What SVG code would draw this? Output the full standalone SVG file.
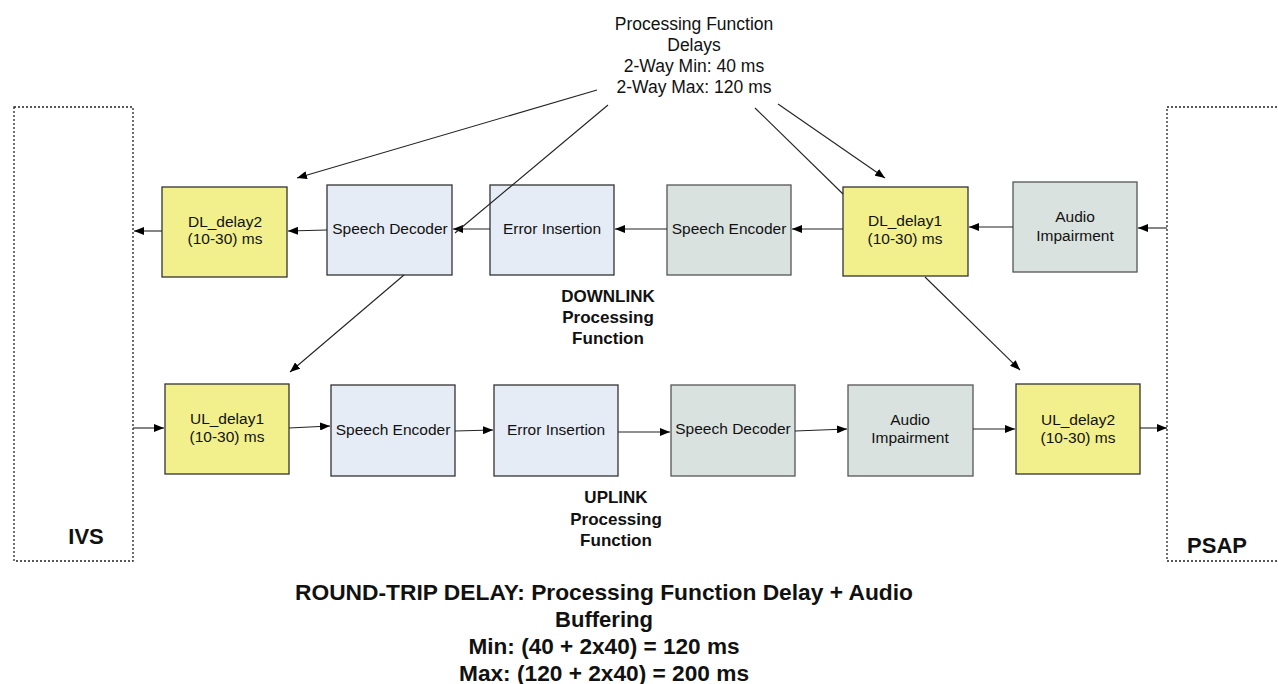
<svg xmlns="http://www.w3.org/2000/svg" width="1278" height="684" viewBox="0 0 1278 684">
<style>
text{font-family:"Liberation Sans",Arial,sans-serif;fill:#111}
.t{font-size:15.5px;text-anchor:middle}
.h{font-size:17.5px;text-anchor:middle}
.b{font-weight:bold;text-anchor:middle}
.y{fill:#F2F08C;stroke:#333;stroke-width:1.3}
.bl{fill:#E6ECF6;stroke:#333;stroke-width:1.3}
.g{fill:#DAE2E0;stroke:#555;stroke-width:1.3}
.end{fill:none;stroke:#222;stroke-width:1.3;stroke-dasharray:2 2}
.c line{stroke:#222;stroke-width:1.1}
.a{marker-end:url(#ah)}
</style>
<defs>
<marker id="ah" viewBox="0 0 10 8" refX="10" refY="4" markerWidth="10" markerHeight="8" markerUnits="userSpaceOnUse" orient="auto">
<path d="M0,0 L10,4 L0,8 Z" fill="#000"/>
</marker>
</defs>
<rect width="1278" height="684" fill="#fff"/>

<g id="ivs"><rect class="end" x="14" y="107" width="119" height="454"/><text class="b" x="86" y="544" font-size="22">IVS</text></g>
<g id="psap"><rect class="end" x="1167" y="107" width="130" height="454"/><text class="b" x="1217" y="553" font-size="22">PSAP</text></g>

<g id="title"><text class="h" x="694" y="30">Processing Function</text><text class="h" x="694" y="51">Delays</text><text class="h" x="694" y="72">2-Way Min: 40 ms</text><text class="h" x="694" y="93">2-Way Max: 120 ms</text></g>

<g id="dl_delay2"><rect class="y" x="162" y="187" width="125" height="90"/><text class="t" x="225" y="227">DL_delay2</text><text class="t" x="225" y="244">(10-30) ms</text></g>
<g id="dl_speech_decoder"><rect class="bl" x="327" y="185" width="125" height="90"/><text class="t" x="390" y="234">Speech Decoder</text></g>
<g id="dl_error_insertion"><rect class="bl" x="490" y="185" width="124" height="90"/><text class="t" x="552" y="234">Error Insertion</text></g>
<g id="dl_speech_encoder"><rect class="g" x="667" y="185" width="124" height="90"/><text class="t" x="729" y="234">Speech Encoder</text></g>
<g id="dl_delay1"><rect class="y" x="843" y="187" width="125" height="89"/><text class="t" x="905" y="226">DL_delay1</text><text class="t" x="905" y="244">(10-30) ms</text></g>
<g id="dl_audio_impairment"><rect class="g" x="1013" y="182" width="124" height="90"/><text class="t" x="1075" y="222">Audio</text><text class="t" x="1075" y="241">Impairment</text></g>

<g id="ul_delay1"><rect class="y" x="165" y="384" width="124" height="90"/><text class="t" x="227" y="424">UL_delay1</text><text class="t" x="227" y="442">(10-30) ms</text></g>
<g id="ul_speech_encoder"><rect class="bl" x="331" y="385" width="124" height="91"/><text class="t" x="393" y="435">Speech Encoder</text></g>
<g id="ul_error_insertion"><rect class="bl" x="494" y="385" width="124" height="91"/><text class="t" x="556" y="435">Error Insertion</text></g>
<g id="ul_speech_decoder"><rect class="g" x="671" y="385" width="124" height="91"/><text class="t" x="733" y="434">Speech Decoder</text></g>
<g id="ul_audio_impairment"><rect class="g" x="848" y="385" width="125" height="91"/><text class="t" x="910" y="425">Audio</text><text class="t" x="910" y="443">Impairment</text></g>
<g id="ul_delay2"><rect class="y" x="1016" y="384" width="124" height="90"/><text class="t" x="1078" y="425">UL_delay2</text><text class="t" x="1078" y="443">(10-30) ms</text></g>

<g id="dl_label"><text class="b" x="608" y="302" font-size="17">DOWNLINK</text><text class="b" x="608" y="323" font-size="17">Processing</text><text class="b" x="608" y="344" font-size="17">Function</text></g>
<g id="ul_label"><text class="b" x="616" y="503" font-size="17">UPLINK</text><text class="b" x="616" y="525" font-size="17">Processing</text><text class="b" x="616" y="546" font-size="17">Function</text></g>

<g id="summary"><text class="b" x="604" y="600" font-size="22" textLength="618" lengthAdjust="spacingAndGlyphs">ROUND-TRIP DELAY: Processing Function Delay + Audio</text><text class="b" x="604" y="627" font-size="22" textLength="98" lengthAdjust="spacingAndGlyphs">Buffering</text><text class="b" x="604" y="654" font-size="22" textLength="271" lengthAdjust="spacingAndGlyphs">Min: (40 + 2x40) = 120 ms</text><text class="b" x="604" y="681" font-size="22" textLength="290" lengthAdjust="spacingAndGlyphs">Max: (120 + 2x40) = 200 ms</text></g>

<g id="connectors" class="c">
<line class="a" x1="1167" y1="228" x2="1138" y2="228"/>
<line class="a" x1="1013" y1="227" x2="969" y2="227"/>
<line class="a" x1="843" y1="229" x2="792" y2="229"/>
<line class="a" x1="667" y1="229" x2="615" y2="229"/>
<line class="a" x1="490" y1="229" x2="453" y2="229"/>
<line class="a" x1="327" y1="230" x2="288" y2="231"/>
<line class="a" x1="162" y1="231" x2="134" y2="231"/>
<line class="a" x1="133" y1="428" x2="164" y2="428"/>
<line class="a" x1="289" y1="428" x2="330" y2="426"/>
<line class="a" x1="455" y1="431" x2="493" y2="430"/>
<line class="a" x1="618" y1="432" x2="670" y2="432"/>
<line class="a" x1="795" y1="431" x2="847" y2="429"/>
<line class="a" x1="973" y1="429" x2="1015" y2="429"/>
<line class="a" x1="1140" y1="428" x2="1167" y2="428"/>
<line class="a" x1="597" y1="90" x2="297" y2="178"/>
<line x1="608" y1="105" x2="455" y2="233"/>
<line x1="755" y1="108" x2="843" y2="194"/>
<line class="a" x1="778" y1="104" x2="885" y2="178"/>
<line class="a" x1="404" y1="275" x2="290" y2="372"/>
<line class="a" x1="925" y1="277" x2="1020" y2="370"/>
</g>
</svg>
